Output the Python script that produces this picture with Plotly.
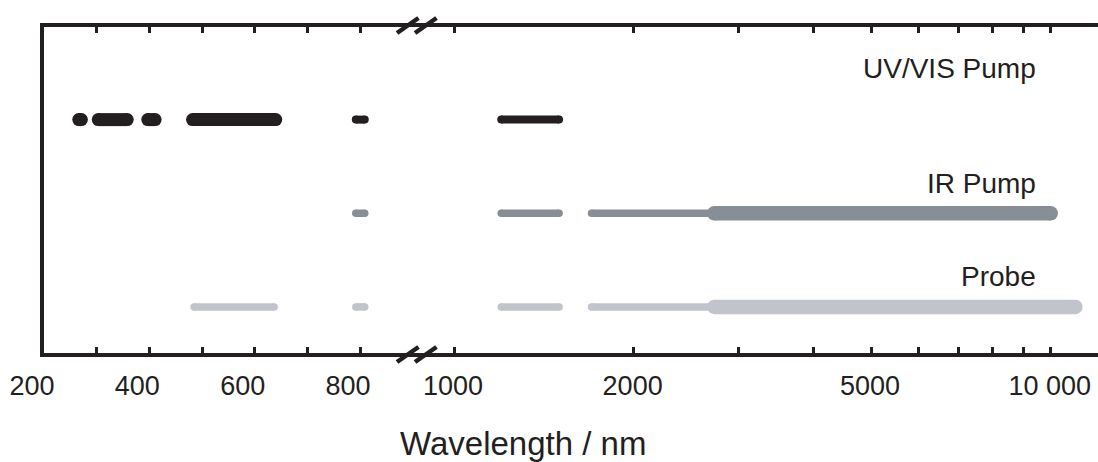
import plotly.graph_objects as go

# ---------------- data (wavelength ranges in nm) ----------------
UV_STRONG = [(266, 271), (303, 358), (397, 411), (482, 640)]
UV_WEAK = [(792, 809), (1200, 1500)]
IR_STRONG = [(2730, 10000)]
IR_WEAK = [(792, 809), (1200, 1500), (1700, 2730)]
PROBE_STRONG = [(2730, 11000)]
PROBE_WEAK = [(485, 637), (792, 809), (1200, 1500), (1700, 2730)]

ROW_NAMES = ["UV/VIS Pump", "IR Pump", "Probe"]
ROW_LEVEL = [3, 2, 1]

LIN_TICKS = [200, 300, 400, 500, 600, 700, 800]
LIN_TEXT = ["200", "", "400", "", "600", "", "800"]
LOG_TICKS = [1000, 2000, 3000, 4000, 5000, 6000, 7000, 8000, 9000, 10000]
LOG_TEXT = ["1000", "2000", "", "", "5000", "", "", "", "", "10 000"]

# ---------------- layout geometry ----------------
W, H = 1098, 462
ML, MR, MT, MB = 44, 0, 27, 109
PW = W - ML - MR
PH = H - MT - MB
SPLIT_PX = 416
BREAK_NM = 906.3
LOG_RANGE = [2.9363, 4.0793]

BLACK = "#231f20"
DARK = "#878e96"
LIGHT = "#c1c4cb"
FONT = "Arial, Liberation Sans, sans-serif"


def xp(px):
    return (px - ML) / PW


def yp(py):
    return (MT + PH - py) / PH


fig = go.Figure()


def add_segments(segs, y, color, width):
    for a, b in segs:
        axis = "x" if b <= BREAK_NM else "x2"
        fig.add_trace(go.Scatter(
            x=[a, b], y=[y, y], xaxis=axis, yaxis="y",
            mode="lines+markers",
            line=dict(color=color, width=width),
            marker=dict(color=color, size=width, line=dict(width=0)),
            hoverinfo="skip", showlegend=False))


add_segments(UV_STRONG, ROW_LEVEL[0], BLACK, 13)
add_segments(UV_WEAK, ROW_LEVEL[0], BLACK, 8)
add_segments(IR_WEAK, ROW_LEVEL[1], DARK, 7.5)
add_segments(IR_STRONG, ROW_LEVEL[1], DARK, 14.5)
add_segments(PROBE_WEAK, ROW_LEVEL[2], LIGHT, 7.5)
add_segments(PROBE_STRONG, ROW_LEVEL[2], LIGHT, 14.5)

axis_common = dict(
    ticks="inside", ticklen=6, tickwidth=3, tickcolor=BLACK,
    showline=True, linewidth=4, linecolor=BLACK, mirror="ticks",
    showgrid=False, zeroline=False, ticklabelstandoff=6,
    tickfont=dict(family=FONT, size=27, color=BLACK),
)

fig.update_layout(
    width=W, height=H,
    margin=dict(l=ML, r=MR, t=MT, b=MB, pad=0),
    paper_bgcolor="white", plot_bgcolor="white",
    xaxis=dict(type="linear", range=[200, BREAK_NM], domain=[0, xp(SPLIT_PX)],
               tickmode="array", tickvals=LIN_TICKS, ticktext=LIN_TEXT,
               ticklabelshift=-12, anchor="y", **axis_common),
    xaxis2=dict(type="log", range=LOG_RANGE, domain=[xp(SPLIT_PX), 1],
                tickmode="array", tickvals=LOG_TICKS, ticktext=LOG_TEXT,
                ticklabelshift=-1, anchor="y", **axis_common),
    yaxis=dict(range=[0.508, 3.989], showline=True, linewidth=4, linecolor=BLACK,
               showticklabels=False, ticks="", showgrid=False, zeroline=False,
               anchor="x", mirror=False),
)

# row labels
label_y = [68, 183, 276]
for name, py in zip(ROW_NAMES, label_y):
    fig.add_annotation(x=xp(1038), y=yp(py), xref="paper", yref="paper",
                       text=name, showarrow=False, xanchor="right", yanchor="middle",
                       font=dict(family=FONT, size=28, color=BLACK))

# axis title
fig.add_annotation(x=xp(523), y=yp(443), xref="paper", yref="paper",
                   text="Wavelength / nm", showarrow=False,
                   xanchor="center", yanchor="middle",
                   font=dict(family=FONT, size=33, color=BLACK))

# break marks (top and bottom)
for yc in (25.5, 354.5):
    for x0 in (397, 415):
        fig.add_shape(type="line", xref="paper", yref="paper",
                      x0=xp(x0), x1=xp(x0 + 21.5),
                      y0=yp(yc + 7.5), y1=yp(yc - 7.5),
                      line=dict(color=BLACK, width=4.5), layer="above")

fig.write_html("out.html", config={"displayModeBar": False},
               post_script="document.body.style.margin='0';document.body.style.overflow='hidden';")
